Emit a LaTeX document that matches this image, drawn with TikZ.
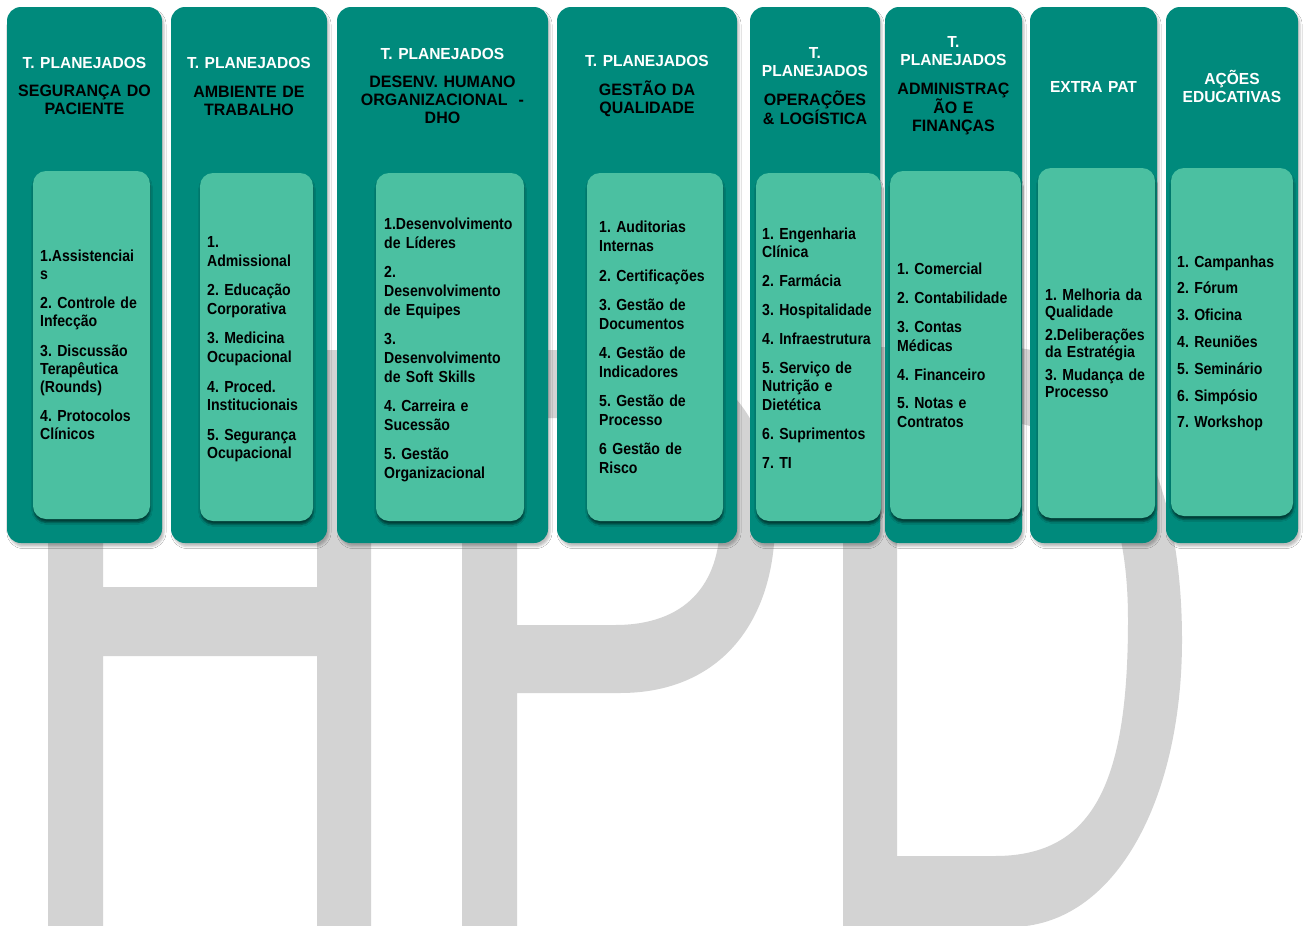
\documentclass[tikz,border=0pt]{standalone}
\usepackage{fontspec}
\setmainfont{Liberation Sans}
\newfontfamily\hfont[FakeStretch=0.97]{Liberation Sans}
\newfontfamily\ifont[FakeStretch=0.88]{Liberation Sans}
\usetikzlibrary{shadows.blur}
\definecolor{tealdark}{RGB}{0,138,124}
\definecolor{teallight}{RGB}{75,192,161}
\definecolor{hpdgray}{RGB}{211,211,211}
\newcommand{\headtitle}[1]{{\color{white}\fontsize{16}{18}\selectfont #1}}
\frenchspacing
\begin{document}
\begin{tikzpicture}[x=1pt,y=-1pt,
  outerbox/.style={rectangle, rounded corners=14pt, fill=tealdark, inner sep=0pt,
    blur shadow={shadow xshift=2pt, shadow yshift=-3.5pt, shadow blur radius=2pt, shadow opacity=25}},
  innerbox/.style={rectangle, rounded corners=13pt, fill=teallight, inner sep=0pt,
    blur shadow={shadow xshift=0.5pt, shadow yshift=-3.5pt, shadow blur radius=2pt, shadow opacity=55}},
  head/.style={align=center, inner sep=0pt, text width=200pt,
    font=\hfont\bfseries\fontsize{16.5}{18}\selectfont},
  items/.style={align=left, anchor=west, inner sep=0pt, text width=160pt,
    font=\ifont\bfseries\fontsize{16}{18.8}\selectfont},
]
\useasboundingbox (0,0) rectangle (1304,926);
\fill[white] (0,0) rectangle (1304,926);

% background HPD letters
\begin{scope}
\clip (0,0) rectangle (1304,926);
\fill[hpdgray] (48,350) -- (103,350) -- (103,587) -- (317,587) -- (317,350) -- (371,350)
  -- (371,935) -- (317,935) -- (317,656) -- (103,656) -- (103,935) -- (48,935) -- cycle;
\fill[hpdgray, even odd rule]
  (462,350) -- (620,350) .. controls (720,350) and (775,420) .. (775,521)
  .. controls (775,622) and (720,693) .. (620,693) -- (517,693) -- (517,935) -- (462,935) -- cycle
  (517,418) -- (615,418) .. controls (685,418) and (720,458) .. (720,521)
  .. controls (720,585) and (685,625) .. (615,625) -- (517,625) -- cycle;
\fill[hpdgray, even odd rule]
  (843,347) -- (1000,347) .. controls (1120,347) and (1182,470) .. (1182,640)
  .. controls (1182,800) and (1115,927) .. (1010,927) -- (843,927) -- cycle
  (897,421) -- (990,421) .. controls (1090,421) and (1128,500) .. (1128,620)
  .. controls (1128,780) and (1095,856) .. (995,856) -- (897,856) -- cycle;
\end{scope}

% outer columns
\node[outerbox, minimum width=155pt, minimum height=536pt] (o1) at (84.5,275) {};
\node[outerbox, minimum width=156pt, minimum height=536pt] (o2) at (249,275) {};
\node[outerbox, minimum width=211pt, minimum height=536pt] (o3) at (442.5,275) {};
\node[outerbox, minimum width=180pt, minimum height=536pt] (o4) at (647,275) {};
\node[outerbox, minimum width=130pt, minimum height=536pt] (o5) at (815,275) {};
\node[outerbox, minimum width=137pt, minimum height=536pt] (o6) at (953.5,275) {};
\node[outerbox, minimum width=127pt, minimum height=536pt] (o7) at (1093.5,275) {};
\node[outerbox, minimum width=132pt, minimum height=536pt] (o8) at (1232,275) {};

% inner boxes
\node[innerbox, minimum width=117pt, minimum height=348pt] (i1) at (91.5,345) {};
\node[innerbox, minimum width=113pt, minimum height=348pt] (i2) at (256.5,347) {};
\node[innerbox, minimum width=148pt, minimum height=348pt] (i3) at (450,347) {};
\node[innerbox, minimum width=136pt, minimum height=348pt] (i4) at (655,347) {};
\node[innerbox, minimum width=125pt, minimum height=348pt] (i5) at (818.5,347) {};
\node[innerbox, minimum width=131pt, minimum height=348pt] (i6) at (955.5,345) {};
\node[innerbox, minimum width=117pt, minimum height=350pt] (i7) at (1096.5,343) {};
\node[innerbox, minimum width=122pt, minimum height=348pt] (i8) at (1232,342) {};

% headers
\node[head] (h1) at (84.5,86) {\headtitle{T. PLANEJADOS}\\[10.5pt]SEGURANÇA DO\\PACIENTE};
\node[head] (h2) at (249,86.5) {\headtitle{T. PLANEJADOS}\\[10.5pt]AMBIENTE DE\\TRABALHO};
\node[head] (h3) at (442.5,86) {\headtitle{T. PLANEJADOS}\\[10.5pt]DESENV. HUMANO\\ORGANIZACIONAL\ \ -\\DHO};
\node[head] (h4) at (647,86) {\headtitle{T. PLANEJADOS}\\[10.5pt]GESTÃO DA\\QUALIDADE};
\node[head] (h5) at (815,86) {\headtitle{T.\\PLANEJADOS}\\[10.5pt]OPERAÇÕES\\\& LOGÍSTICA};
\node[head] (h6) at (953.5,86) {\headtitle{T.\\PLANEJADOS}\\[10.5pt]ADMINISTRAÇ\\ÃO E\\FINANÇAS};
\node[head] (h7) at (1093.5,86.5) {\headtitle{EXTRA PAT}};
\node[head] (h8) at (1232,86.5) {\headtitle{AÇÕES\\EDUCATIVAS}};

% item lists
\node[items, font=\ifont\bfseries\fontsize{16}{18}\selectfont] (l1) at (40,345) {1.Assistenciai\\s\\[11.5pt]\makebox[96pt][s]{2. Controle de}\\Infecção\\[11.5pt]3. Discussão\\Terapêutica\\(Rounds)\\[11.5pt]4. Protocolos\\Clínicos};
\node[items] (l2) at (207,349.5) {1.\\Admissional\\[10.5pt]2. Educação\\Corporativa\\[10.5pt]3. Medicina\\Ocupacional\\[10.5pt]4. Proced.\\Institucionais\\[10.5pt]5. Segurança\\Ocupacional};
\node[items] (l3) at (384,350) {1.Desenvolvimento\\de Líderes\\[10.5pt]2.\\Desenvolvimento\\de Equipes\\[10.5pt]3.\\Desenvolvimento\\de Soft Skills\\[10.5pt]\makebox[83pt][s]{4. Carreira e}\\Sucessão\\[10.5pt]5. Gestão\\Organizacional};
\node[items] (l4) at (599,347.5) {1. Auditorias\\Internas\\[10.5pt]2. Certificações\\[10.5pt]3. Gestão de\\Documentos\\[10.5pt]4. Gestão de\\Indicadores\\[10.5pt]5. Gestão de\\Processo\\[10.5pt]6 Gestão de\\Risco};
\node[items] (l5) at (762,348) {1. Engenharia\\Clínica\\[10pt]2. Farmácia\\[10pt]3. Hospitalidade\\[10pt]4. Infraestrutura\\[10pt]5. Serviço de\\\makebox[79pt][s]{Nutrição e}\\Dietética\\[10pt]6. Suprimentos\\[10pt]7. TI};
\node[items] (l6) at (897,345.5) {1. Comercial\\[10pt]2. Contabilidade\\[10pt]3. Contas\\Médicas\\[10pt]4. Financeiro\\[10pt]5. Notas e\\Contratos};
\node[items, font=\ifont\bfseries\fontsize{16}{17}\selectfont] (l7) at (1045,343.5) {\makebox[96pt][s]{1. Melhoria da}\\Qualidade\\[6pt]2.Deliberações\\da Estratégia\\[6pt]\makebox[99pt][s]{3. Mudança de}\\Processo};
\node[items] (l8) at (1177,343.3) {1. Campanhas\\[8pt]2. Fórum\\[8pt]3. Oficina\\[8pt]4. Reuniões\\[8pt]5. Seminário\\[8pt]6. Simpósio\\[8pt]7. Workshop};
\end{tikzpicture}
\end{document}
